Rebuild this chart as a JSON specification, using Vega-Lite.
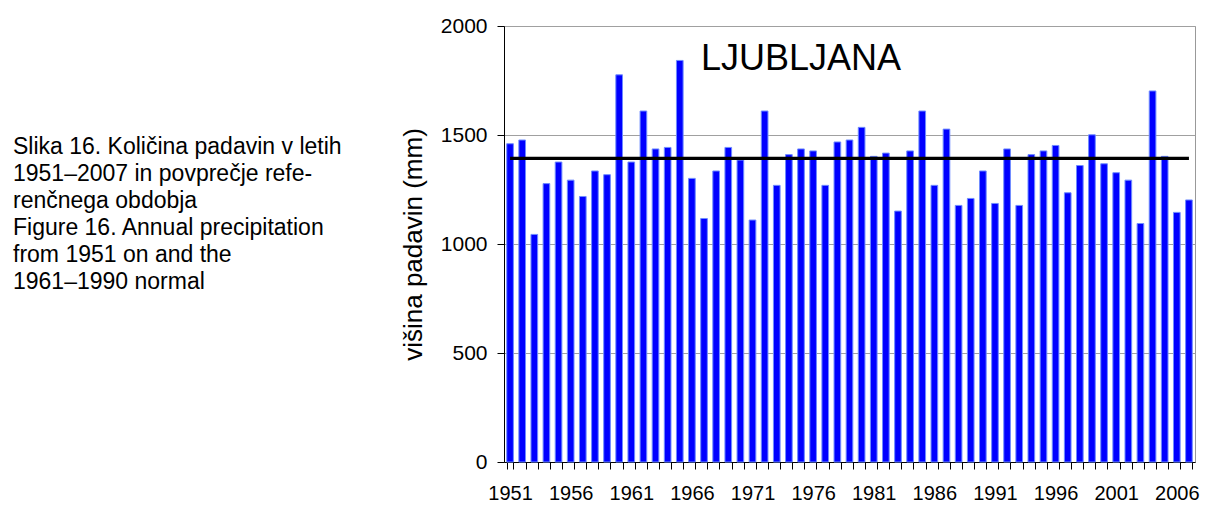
{
  "$schema": "https://vega.github.io/schema/vega-lite/v6.json",
  "padding": {"left": 13, "top": 14, "right": 0, "bottom": 0},
  "background": "white",
  "config": {
    "font": "Liberation Sans",
    "view": {"stroke": null},
    "concat": {"spacing": 20}
  },
  "hconcat": [
    {
      "width": 366,
      "height": 436,
      "data": {"values": [
        {"line": 1, "text": "Slika 16. Količina padavin v letih"},
        {"line": 2, "text": "1951–2007 in povprečje refe-"},
        {"line": 3, "text": "renčnega obdobja"},
        {"line": 4, "text": "Figure 16. Annual precipitation"},
        {"line": 5, "text": "from 1951 on and the"},
        {"line": 6, "text": "1961–1990 normal"}
      ]},
      "mark": {"type": "text", "align": "left", "baseline": "middle", "fontSize": 23, "color": "black", "font": "Liberation Sans"},
      "encoding": {
        "x": {"datum": 0, "type": "quantitative", "scale": {"domain": [0, 1]}, "axis": null},
        "y": {"field": "line", "type": "quantitative", "scale": {"domain": [-3.5, 12.65], "reverse": true, "zero": false, "nice": false}, "axis": null},
        "text": {"field": "text"}
      }
    },
    {
      "width": 691,
      "height": 436,
      "view": {"stroke": "#999999"},
      "data": {"values": [
        {"year": 1951, "mm": 1460}, {"year": 1952, "mm": 1477}, {"year": 1953, "mm": 1044},
        {"year": 1954, "mm": 1277}, {"year": 1955, "mm": 1376}, {"year": 1956, "mm": 1293},
        {"year": 1957, "mm": 1218}, {"year": 1958, "mm": 1335}, {"year": 1959, "mm": 1318},
        {"year": 1960, "mm": 1776}, {"year": 1961, "mm": 1376}, {"year": 1962, "mm": 1610},
        {"year": 1963, "mm": 1436}, {"year": 1964, "mm": 1443}, {"year": 1965, "mm": 1842},
        {"year": 1966, "mm": 1301}, {"year": 1967, "mm": 1117}, {"year": 1968, "mm": 1335},
        {"year": 1969, "mm": 1443}, {"year": 1970, "mm": 1385}, {"year": 1971, "mm": 1110},
        {"year": 1972, "mm": 1610}, {"year": 1973, "mm": 1269}, {"year": 1974, "mm": 1410},
        {"year": 1975, "mm": 1436}, {"year": 1976, "mm": 1427}, {"year": 1977, "mm": 1269},
        {"year": 1978, "mm": 1468}, {"year": 1979, "mm": 1477}, {"year": 1980, "mm": 1535},
        {"year": 1981, "mm": 1402}, {"year": 1982, "mm": 1417}, {"year": 1983, "mm": 1151},
        {"year": 1984, "mm": 1427}, {"year": 1985, "mm": 1610}, {"year": 1986, "mm": 1269},
        {"year": 1987, "mm": 1527}, {"year": 1988, "mm": 1177}, {"year": 1989, "mm": 1209},
        {"year": 1990, "mm": 1335}, {"year": 1991, "mm": 1186}, {"year": 1992, "mm": 1436},
        {"year": 1993, "mm": 1177}, {"year": 1994, "mm": 1410}, {"year": 1995, "mm": 1427},
        {"year": 1996, "mm": 1452}, {"year": 1997, "mm": 1235}, {"year": 1998, "mm": 1360},
        {"year": 1999, "mm": 1501}, {"year": 2000, "mm": 1368}, {"year": 2001, "mm": 1327},
        {"year": 2002, "mm": 1293}, {"year": 2003, "mm": 1094}, {"year": 2004, "mm": 1702},
        {"year": 2005, "mm": 1402}, {"year": 2006, "mm": 1145}, {"year": 2007, "mm": 1202}
      ]},
      "layer": [
        {
          "mark": {"type": "bar", "color": "#0000ff", "stroke": "#6f8cff", "strokeWidth": 1},
          "encoding": {
            "x": {
              "field": "year", "type": "ordinal",
              "scale": {"paddingInner": 0.45, "paddingOuter": 0.225},
              "axis": {
                "title": null, "labelAngle": 0,
                "labelExpr": "(datum.value - 1951) % 5 == 0 ? datum.label : ''",
                "labelOverlap": false, "tickBand": "extent", "tickSize": 7,
                "tickColor": "black", "domainColor": "black", "labelColor": "black",
                "labelFontSize": 20, "labelPadding": 14, "grid": false, "labelFont": "Liberation Sans"
              }
            },
            "y": {
              "field": "mm", "type": "quantitative",
              "scale": {"domain": [0, 2000], "nice": false},
              "axis": {
                "title": "višina padavin (mm)", "values": [0, 500, 1000, 1500, 2000], "format": "d",
                "grid": true, "gridColor": "#a0a0a0", "tickSize": 7, "tickColor": "black",
                "domainColor": "black", "labelColor": "black", "labelFontSize": 21,
                "labelPadding": 10, "titleFontSize": 26, "titleFontWeight": "normal",
                "titleColor": "black", "titlePadding": 14, "labelFont": "Liberation Sans", "titleFont": "Liberation Sans"
              }
            }
          }
        },
        {
          "data": {"values": [{"year": 1951, "mm": 1393}, {"year": 2007, "mm": 1393}]},
          "mark": {"type": "line", "color": "black", "strokeWidth": 3.3},
          "encoding": {
            "x": {"field": "year", "type": "ordinal"},
            "y": {"field": "mm", "type": "quantitative"}
          }
        },
        {
          "data": {"values": [{"year": 1975, "mm": 1850, "label": "LJUBLJANA"}]},
          "mark": {"type": "text", "fontSize": 36, "align": "center", "baseline": "middle", "color": "black", "font": "Liberation Sans"},
          "encoding": {
            "x": {"field": "year", "type": "ordinal"},
            "y": {"field": "mm", "type": "quantitative"},
            "text": {"field": "label"}
          }
        }
      ]
    }
  ]
}
